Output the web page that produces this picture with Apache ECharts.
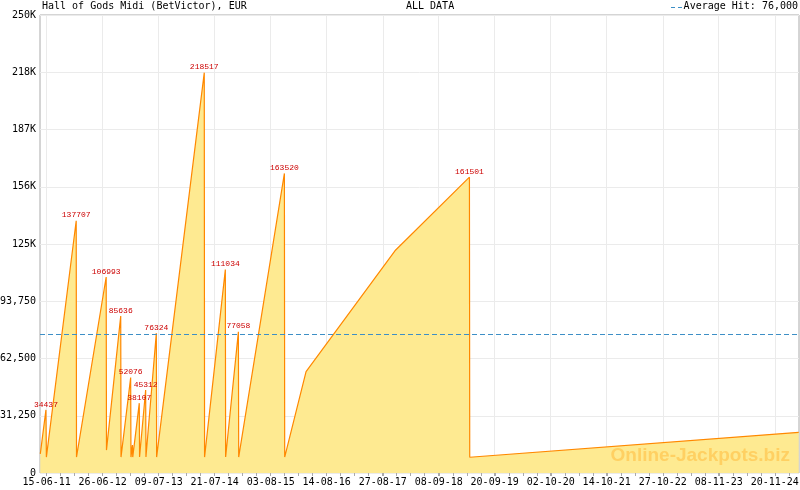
<!DOCTYPE html>
<html>

<head>
  <meta charset="UTF-8">
  <title>Hall of Gods Midi (BetVictor), EUR</title>
  <script src="https://cdn.jsdelivr.net/npm/echarts@6.0.0/dist/echarts.min.js"></script>
  <style>
    html,
    body {
      margin: 0;
      padding: 0;
      background: #fff;
    }

    #chart {
      width: 800px;
      height: 490px;
    }
  </style>
</head>

<body>
  <div id="chart"></div>
  <script>
    // jackpot history (date of reading, amount in EUR)
    const dates = ['2011-05-03', '2011-06-10', '2011-06-13', '2011-12-31', '2012-01-02', '2012-07-20', '2012-07-22',
      '2012-10-26', '2012-10-28', '2013-01-01', '2013-01-03', '2013-01-13', '2013-01-15', '2013-02-28', '2013-03-02',
      '2013-04-12', '2013-04-14', '2013-06-23', '2013-06-25', '2014-05-12', '2014-05-14', '2014-10-01', '2014-10-03',
      '2014-12-28', '2014-12-30', '2015-11-03', '2015-11-05', '2016-03-28', '2017-11-17', '2019-04-03', '2019-04-05',
      '2025-04-30'];
    const values = [10400, 34437, 8700, 137707, 8700, 106993, 12500,
      85636, 8700, 52076, 8700, 15300, 8700, 38107, 8700,
      45312, 8700, 76324, 8700, 218517, 8700, 111034, 8700,
      77058, 8700, 163520, 8700, 55300, 121300, 161501, 8600,
      22200];
    // hits that get a value label
    const hits = [34437, 137707, 106993, 85636, 52076, 38107, 45312, 76324, 218517, 111034, 77058, 163520, 161501];
    const avgHit = 76000;

    // x axis tick labels
    const tickDates = ['2011-06-15', '2012-06-26', '2013-07-09', '2014-07-21', '2015-08-03', '2016-08-14', '2017-08-27',
      '2018-09-08', '2019-09-20', '2020-10-02', '2021-10-14', '2022-10-27', '2023-11-08', '2024-11-20'];
    const axisStart = '2011-05-01';
    const axisEnd = '2025-05-02';

    function ts(s) {
      const p = s.split('-').map(Number);
      return Date.UTC(p[0], p[1] - 1, p[2]);
    }

    function pad(n) {
      return (n < 10 ? '0' : '') + n;
    }

    const tickTs = tickDates.map(ts);
    // small ticks, four per labelled step
    const step = (tickTs[tickTs.length - 1] - tickTs[0]) / (tickTs.length - 1) / 4;
    const minorTs = [];
    for (let t = tickTs[0]; t <= ts(axisEnd); t += step) {
      minorTs.push(Math.round(t));
    }

    const seriesData = dates.map((d, i) => ({
      value: [ts(d), values[i]],
      label: { show: hits.indexOf(values[i]) >= 0 }
    }));

    const chart = echarts.init(document.getElementById('chart'));

    const option = {
      animation: false,
      grid: {
        left: 40,
        right: 1,
        top: 15,
        bottom: 17,
        show: true,
        borderColor: '#aaaaaa',
        borderWidth: 1,
        outerBoundsMode: 'none'
      },
      xAxis: [{
        type: 'value',
        min: ts(axisStart),
        max: ts(axisEnd),
        axisLine: { show: false },
        axisTick: {
          show: true,
          customValues: tickTs,
          length: 3,
          lineStyle: { color: '#aaaaaa' }
        },
        axisLabel: {
          customValues: tickTs,
          margin: 4,
          color: '#000',
          fontFamily: 'DejaVu Sans Mono',
          fontSize: 10,
          formatter: function (v) {
            const d = new Date(v);
            return pad(d.getUTCDate()) + '-' + pad(d.getUTCMonth() + 1) + '-' + pad(d.getUTCFullYear() % 100);
          }
        },
        splitLine: { show: true, lineStyle: { color: '#ebebeb' } }
      }, {
        type: 'value',
        position: 'bottom',
        min: ts(axisStart),
        max: ts(axisEnd),
        axisLine: { show: false },
        axisTick: {
          show: true,
          customValues: minorTs,
          length: 3,
          lineStyle: { color: '#aaaaaa' }
        },
        axisLabel: { show: false },
        splitLine: { show: false }
      }],
      yAxis: {
        type: 'value',
        min: 0,
        max: 250000,
        interval: 31250,
        axisLine: { show: false },
        axisTick: { show: false },
        axisLabel: {
          margin: 4,
          color: '#000',
          fontFamily: 'DejaVu Sans Mono',
          fontSize: 10,
          formatter: function (v) {
            if (v >= 100000) return Math.floor(v / 1000) + 'K';
            return v.toLocaleString('en-US');
          }
        },
        splitLine: { show: true, lineStyle: { color: '#ebebeb' } }
      },
      graphic: [{
        type: 'text',
        left: 42,
        top: 1,
        style: {
          text: 'Hall of Gods Midi (BetVictor), EUR',
          font: '10px "DejaVu Sans Mono"',
          fill: '#000'
        }
      }, {
        type: 'text',
        left: 406,
        top: 1,
        style: {
          text: 'ALL DATA',
          font: '10px "DejaVu Sans Mono"',
          fill: '#000'
        }
      }, {
        type: 'line',
        shape: { x1: 671, y1: 7.5, x2: 684, y2: 7.5 },
        style: { stroke: '#3d8fc6', lineWidth: 1, lineDash: [4, 3] }
      }, {
        type: 'text',
        right: 2,
        top: 1,
        style: {
          text: 'Average Hit: ' + avgHit.toLocaleString('en-US'),
          font: '10px "DejaVu Sans Mono"',
          fill: '#000'
        }
      }, {
        type: 'text',
        right: 10,
        top: 446,
        z: 100,
        style: {
          text: 'Online-Jackpots.biz',
          font: 'bold 19px "Liberation Sans"',
          fill: 'rgba(255, 185, 60, 0.55)'
        }
      }],
      series: [{
        type: 'line',
        data: seriesData,
        showSymbol: true,
        symbol: 'circle',
        symbolSize: 1,
        itemStyle: { color: 'rgba(0,0,0,0)' },
        lineStyle: { color: '#ff8800', width: 1.2 },
        areaStyle: { color: '#feea91', opacity: 1 },
        label: {
          position: 'top',
          distance: 1,
          color: '#cc0000',
          fontFamily: 'Liberation Mono',
          fontSize: 8
        },
        labelLayout: { hideOverlap: false },
        markLine: {
          silent: true,
          symbol: 'none',
          label: { show: false },
          lineStyle: { color: '#3d8fc6', type: [5, 3], width: 1 },
          data: [{ yAxis: avgHit }]
        }
      }]
    };

    chart.setOption(option);
  </script>
</body>

</html>
